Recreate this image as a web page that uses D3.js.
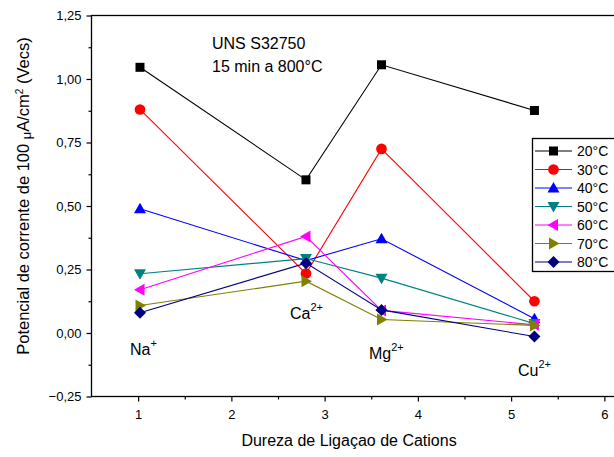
<!DOCTYPE html>
<html>
<head>
<meta charset="utf-8">
<script src="https://cdn.jsdelivr.net/npm/d3@7"></script>
<style>
  html, body { margin: 0; padding: 0; background: #fff; overflow: hidden; }
  svg { display: block; font-family: "Liberation Sans", Arial, sans-serif; }
</style>
</head>
<body>
<svg id="chart" width="614" height="457"></svg>
<script>
// Cation bond hardness (x) for each cation
const cations = ["Na", "Ca", "Mg", "Cu"];
const hardness = [1.02, 2.80, 3.61, 5.25];

// Potential at 100 µA/cm² (V vs SCE) per temperature
const temperatures = ["20°C", "30°C", "40°C", "50°C", "60°C", "70°C", "80°C"];
const v20 = [1.046, 0.603, 1.056, 0.876];
const v30 = [0.880, 0.234, 0.725, 0.125];
const v40 = [0.489, 0.285, 0.371, 0.056];
const v50 = [0.233, 0.293, 0.216, 0.037];
const v60 = [0.170, 0.380, 0.089, 0.032];
const v70 = [0.108, 0.204, 0.053, 0.030];
const v80 = [0.080, 0.275, 0.091, -0.014];
const seriesValues = [v20, v30, v40, v50, v60, v70, v80];

const xTicks = [1, 2, 3, 4, 5, 6];
const yTicks = [-0.25, 0, 0.25, 0.5, 0.75, 1.0, 1.25];

const colors = ["#000000", "#ff0000", "#0000ff", "#008080", "#ff00ff", "#808000", "#000080"];
const shapes = ["square", "circle", "up", "down", "left", "right", "diamond"];

const svg = d3.select("#chart");
const x = d3.scaleLinear().domain([0.5, 6.5]).range([91.5, 651]);
const y = d3.scaleLinear().domain([-0.25, 1.25]).range([396.5, 15.5]);
const fmt = v => d3.format(".2f")(v).replace(".", ",");

// frame
svg.append("rect")
  .attr("x", x(0.5)).attr("y", y(1.25))
  .attr("width", x(6.5) - x(0.5)).attr("height", y(-0.25) - y(1.25))
  .attr("fill", "none").attr("stroke", "#000").attr("stroke-width", 1.3);

// x axis
svg.append("g").attr("transform", `translate(0,${y(-0.25)})`)
  .call(d3.axisBottom(x).tickValues(xTicks).tickSize(5).tickPadding(8).tickFormat(d3.format("d")));
svg.append("g").attr("transform", `translate(0,${y(-0.25)})`)
  .call(d3.axisBottom(x).tickValues(d3.range(1.5, 6.5, 1)).tickSize(3).tickFormat(""));
// y axis
svg.append("g").attr("transform", `translate(${x(0.5)},0)`)
  .call(d3.axisLeft(y).tickValues(yTicks).tickSize(5).tickPadding(5).tickFormat(fmt));
svg.append("g").attr("transform", `translate(${x(0.5)},0)`)
  .call(d3.axisLeft(y).tickValues(d3.range(-0.125, 1.25, 0.25)).tickSize(3).tickFormat(""));

svg.selectAll(".domain").remove();
svg.selectAll(".tick line").attr("stroke", "#000").attr("stroke-width", 1.2);
svg.selectAll(".tick text").attr("font-size", 13).attr("fill", "#000")
  .attr("font-family", "'Liberation Sans', Arial, sans-serif");

// axis titles
svg.append("text")
  .attr("x", 349).attr("y", 446)
  .attr("text-anchor", "middle").attr("font-size", 16)
  .text("Dureza de Ligaçao de Cations");

const yTitle = svg.append("text")
  .attr("transform", "translate(29,196) rotate(-90)")
  .attr("text-anchor", "middle").attr("font-size", 16.5);
yTitle.append("tspan").text("Potencial de corrente  de 100 ");
yTitle.append("tspan").attr("font-size", 13).attr("dy", 2).text("μ");
yTitle.append("tspan").attr("dy", -2).text("A/cm");
yTitle.append("tspan").attr("font-size", 10).attr("dy", -6).text("2");
yTitle.append("tspan").attr("dy", 6).text(" (Vecs)");

// marker symbol generator
function markerPath(shape) {
  switch (shape) {
    case "square": return "M-4.5,-4.5H4.5V4.5H-4.5Z";
    case "circle": return d3.symbol(d3.symbolCircle, 90)();
    case "up": return "M0,-6L6,4.5H-6Z";
    case "down": return "M0,6L6,-4.5H-6Z";
    case "left": return "M-6,0L4.5,-6V6Z";
    case "right": return "M6,0L-4.5,-6V6Z";
    case "diamond": return "M0,-6L6,0L0,6L-6,0Z";
  }
}

const line = d3.line().x((d, i) => x(hardness[i])).y(d => y(d));

seriesValues.forEach((vals, s) => {
  const g = svg.append("g");
  g.append("path").datum(vals)
    .attr("d", line).attr("fill", "none")
    .attr("stroke", colors[s]).attr("stroke-width", 1.1);
  g.selectAll("path.m").data(vals).enter().append("path")
    .attr("class", "m")
    .attr("transform", (d, i) => `translate(${x(hardness[i])},${y(d)})`)
    .attr("d", markerPath(shapes[s]))
    .attr("fill", colors[s]);
});

// cation labels
const labelPos = [
  { name: "Na", sup: "+", lx: 130, ly: 355 },
  { name: "Ca", sup: "2+", lx: 290, ly: 319 },
  { name: "Mg", sup: "2+", lx: 369, ly: 359 },
  { name: "Cu", sup: "2+", lx: 518, ly: 376 }
];
labelPos.forEach(l => {
  const t = svg.append("text").attr("x", l.lx).attr("y", l.ly).attr("font-size", 16);
  t.append("tspan").text(l.name);
  t.append("tspan").attr("font-size", 11).attr("dy", -8).text(l.sup);
});

// sample annotation
svg.append("text").attr("x", 212).attr("y", 49).attr("font-size", 16).text("UNS S32750");
svg.append("text").attr("x", 212).attr("y", 72).attr("font-size", 16).text("15 min a 800°C");

// legend
const legend = svg.append("g");
legend.append("rect")
  .attr("x", 532.5).attr("y", 138.5).attr("width", 110).attr("height", 133)
  .attr("fill", "#fff").attr("stroke", "#000").attr("stroke-width", 1.3);
temperatures.forEach((t, s) => {
  const cy = 151 + s * 18.5;
  legend.append("line").attr("x1", 535).attr("x2", 572).attr("y1", cy).attr("y2", cy)
    .attr("stroke", colors[s]).attr("stroke-width", 1.1);
  legend.append("path").attr("transform", `translate(553.5,${cy})`)
    .attr("d", markerPath(shapes[s])).attr("fill", colors[s]);
  legend.append("text").attr("x", 577).attr("y", cy + 5).attr("font-size", 14).text(t);
});
</script>
</body>
</html>
